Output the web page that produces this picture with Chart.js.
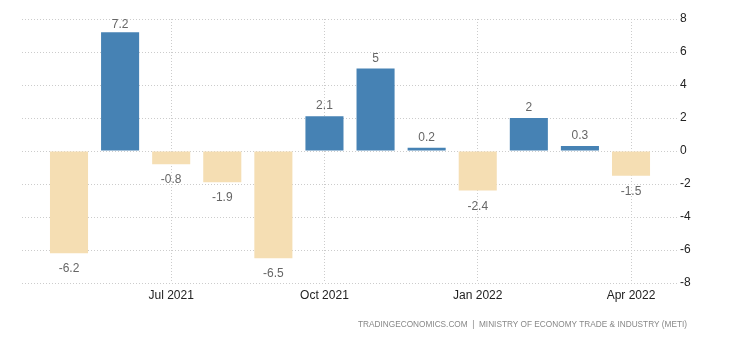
<!DOCTYPE html>
<html>
<head>
<meta charset="utf-8">
<script src="https://cdn.jsdelivr.net/npm/chart.js@4.4.1/dist/chart.umd.min.js"></script>
<style>
  html, body { margin: 0; padding: 0; background: #fff; }
  #wrap { position: relative; width: 730px; height: 340px; }
</style>
</head>
<body>
<div id="wrap"><canvas id="myChart"></canvas></div>
<script>
// monthly change, May 2021 .. Apr 2022
var months = ['May 2021','Jun 2021','Jul 2021','Aug 2021','Sep 2021','Oct 2021',
              'Nov 2021','Dec 2021','Jan 2022','Feb 2022','Mar 2022','Apr 2022'];
var values = [-6.2, 7.2, -0.8, -1.9, -6.5, 2.1, 5, 0.2, -2.4, 2, 0.3, -1.5];
var tickIndexes = [2, 5, 8, 11];   // Jul 2021, Oct 2021, Jan 2022, Apr 2022
var yTicks = [-8, -6, -4, -2, 0, 2, 4, 6, 8];
var sourceText = 'TRADINGECONOMICS.COM  |  MINISTRY OF ECONOMY TRADE & INDUSTRY (METI)';

var blue = '#4682B4';
var beige = '#F5DEB3';
var font = "'Liberation Sans', Arial, sans-serif";

var points = values.map(function (v, i) { return { x: i, y: v }; });

var valueLabels = {
  id: 'valueLabels',
  afterDatasetsDraw: function (chart) {
    var c = chart.ctx;
    var meta = chart.getDatasetMeta(0);
    c.save();
    c.font = '12px ' + font;
    c.fillStyle = '#666';
    c.textAlign = 'center';
    c.textBaseline = 'alphabetic';
    meta.data.forEach(function (bar, i) {
      var v = values[i];
      var y = v >= 0 ? Math.max(bar.y - 7, 28) : bar.y + 19;
      c.fillText(String(v), bar.x, y);
    });
    c.restore();
  }
};

var footer = {
  id: 'footer',
  afterDraw: function (chart) {
    var c = chart.ctx;
    c.save();
    c.font = '9px ' + font;
    c.fillStyle = '#888';
    c.textAlign = 'right';
    c.textBaseline = 'middle';
    c.fillText(sourceText, 687, 325, 329);
    c.restore();
  }
};

var ctx = document.getElementById('myChart');
var myChart = new Chart(ctx, {
  type: 'bar',
  data: {
    datasets: [{
      data: points,
      backgroundColor: values.map(function (v) { return v >= 0 ? blue : beige; }),
      borderWidth: 0,
      categoryPercentage: 1,
      barPercentage: 0.745
    }]
  },
  options: {
    responsive: true,
    maintainAspectRatio: false,
    animation: false,
    layout: { padding: { left: 22, right: 0, top: 19, bottom: 0 } },
    plugins: {
      legend: { display: false },
      tooltip: { enabled: false }
    },
    scales: {
      x: {
        type: 'linear',
        offset: false,
        min: -0.92,
        max: 11.9,
        afterBuildTicks: function (scale) {
          scale.ticks = tickIndexes.map(function (v) { return { value: v }; });
        },
        afterFit: function (scale) { scale.height = 57; },
        ticks: {
          autoSkip: false,
          maxRotation: 0,
          padding: 5,
          color: '#222',
          font: { family: font, size: 12 },
          callback: function (v) { return months[v]; }
        },
        grid: { color: '#ccc', drawTicks: false, lineWidth: 1, offset: false },
        border: { display: false, dash: [1, 2] }
      },
      y: {
        position: 'right',
        min: -8,
        max: 8,
        afterBuildTicks: function (scale) {
          scale.ticks = yTicks.map(function (v) { return { value: v }; });
        },
        afterFit: function (scale) { scale.width = 53; },
        ticks: {
          padding: 3,
          color: '#222',
          font: { family: font, size: 12 }
        },
        grid: { color: '#ccc', drawTicks: false, lineWidth: 1 },
        border: { display: false, dash: [1, 2] }
      }
    }
  },
  plugins: [valueLabels, footer]
});
</script>
</body>
</html>
